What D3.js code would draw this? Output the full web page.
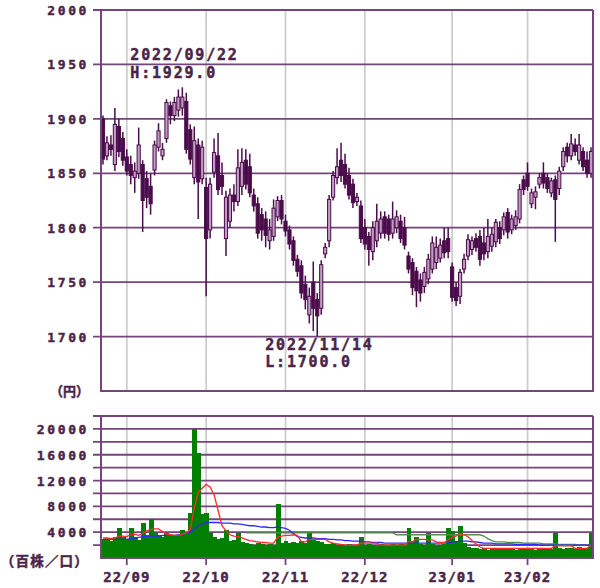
<!DOCTYPE html>
<meta charset="utf-8">
<style>
body { margin: 0; background: #fff; }
svg { display: block; }
.lbl { font-family: "DejaVu Sans Mono", monospace; font-weight: bold; fill: #4a2549; stroke: #4a2549; stroke-width: 0.45px; }
.grid { stroke: #74457a; stroke-width: 1.8; }
.vgrid { stroke: #cdcdcd; stroke-width: 1.8; }
</style>
<svg width="600" height="588"></svg>
<script src="https://cdn.jsdelivr.net/npm/d3@7"></script>
<script>

// trading days shown (yy/mm/dd)
var dates = [
  "22/08/24","22/08/25","22/08/26","22/08/29","22/08/30","22/08/31",
  "22/09/01","22/09/02","22/09/05","22/09/06","22/09/07","22/09/08","22/09/09","22/09/12","22/09/13","22/09/14",
  "22/09/15","22/09/16","22/09/20","22/09/21","22/09/22","22/09/26","22/09/27","22/09/28","22/09/29","22/09/30",
  "22/10/03","22/10/04","22/10/05","22/10/06","22/10/07","22/10/11","22/10/12","22/10/13","22/10/14","22/10/17",
  "22/10/18","22/10/19","22/10/20","22/10/21","22/10/24","22/10/25","22/10/26","22/10/27","22/10/28","22/10/31",
  "22/11/01","22/11/02","22/11/04","22/11/07","22/11/08","22/11/09","22/11/10","22/11/11","22/11/14","22/11/15",
  "22/11/16","22/11/17","22/11/18","22/11/21","22/11/22","22/11/24","22/11/25","22/11/28","22/11/29","22/11/30",
  "22/12/01","22/12/02","22/12/05","22/12/06","22/12/07","22/12/08","22/12/09","22/12/12","22/12/13","22/12/14",
  "22/12/15","22/12/16","22/12/19","22/12/20","22/12/21","22/12/22","22/12/23","22/12/26","22/12/27","22/12/28",
  "22/12/29","22/12/30",
  "23/01/04","23/01/05","23/01/06","23/01/10","23/01/11","23/01/12","23/01/13","23/01/16","23/01/17","23/01/18",
  "23/01/19","23/01/20","23/01/23","23/01/24","23/01/25","23/01/26","23/01/27","23/01/30","23/01/31",
  "23/02/01","23/02/02","23/02/03","23/02/06","23/02/07","23/02/08","23/02/09","23/02/10","23/02/13","23/02/14",
  "23/02/15","23/02/16","23/02/17","23/02/20","23/02/21","23/02/22","23/02/24"
];

var open = [
  1900,1866,1876,1858,1893,1882,1865,1858,1846,1850,1858,1845,1838,1853,1874,1866,1882,1912,1903,1908,
  1910,1916,1890,1846,1876,1845,1837,1798,1851,1866,1848,1790,1806,1830,1824,1838,1862,1856,1830,1822,
  1812,1808,1788,1792,1810,1825,1806,1798,1788,1771,1765,1748,1720,1750,1734,1726,1776,1788,1828,1846,
  1862,1858,1848,1840,1824,1820,1800,1792,1778,1788,1795,1810,1808,1795,1800,1806,1800,1774,1768,1760,
  1752,1746,1753,1762,1768,1772,1788,1790,1764,1745,1737,1762,1774,1780,1790,1792,1786,1778,1783,1787,
  1800,1798,1814,1798,1802,1808,1844,1850,1822,1828,1840,1850,1846,1832,1844,1836,1856,1874,1866,1876,
  1862,1870,1862,1850
];
var high = [
  1903,1884,1885,1910,1900,1888,1872,1866,1860,1892,1862,1852,1850,1880,1896,1878,1918,1916,1920,1927,
  1929,1924,1895,1893,1882,1880,1846,1846,1882,1887,1860,1834,1836,1840,1872,1873,1872,1868,1836,1828,
  1818,1815,1808,1826,1829,1830,1812,1802,1792,1775,1770,1756,1745,1769,1740,1770,1786,1830,1852,1873,
  1878,1868,1855,1845,1832,1825,1808,1796,1806,1822,1815,1815,1812,1824,1816,1812,1810,1778,1772,1764,
  1758,1764,1776,1792,1792,1790,1800,1800,1768,1750,1762,1776,1794,1792,1795,1798,1800,1808,1800,1808,
  1806,1814,1818,1812,1816,1840,1848,1860,1836,1838,1850,1860,1850,1846,1848,1856,1874,1878,1886,1882,
  1886,1874,1870,1874
];
var low = [
  1858,1862,1866,1852,1865,1857,1848,1840,1832,1845,1796,1818,1812,1848,1870,1862,1878,1895,1898,1902,
  1903,1868,1858,1840,1808,1840,1737,1790,1846,1830,1830,1774,1800,1815,1820,1830,1835,1828,1815,1790,
  1788,1782,1780,1788,1806,1803,1792,1780,1765,1755,1735,1725,1712,1705,1700,1720,1772,1782,1825,1840,
  1842,1836,1826,1818,1820,1786,1780,1765,1770,1782,1790,1790,1788,1790,1795,1786,1780,1758,1738,1727,
  1732,1740,1748,1758,1762,1768,1772,1772,1732,1728,1730,1758,1770,1775,1778,1765,1770,1772,1778,1782,
  1785,1793,1790,1794,1798,1804,1830,1834,1818,1817,1836,1836,1832,1828,1787,1830,1852,1860,1862,1866,
  1858,1852,1846,1846
];
var close = [
  1863,1878,1872,1895,1870,1862,1852,1848,1852,1876,1825,1828,1822,1876,1889,1872,1915,1903,1915,1920,
  1920,1872,1863,1880,1842,1874,1790,1840,1869,1835,1838,1828,1830,1824,1855,1860,1840,1832,1820,1795,
  1798,1793,1798,1818,1825,1808,1797,1785,1770,1760,1740,1734,1737,1726,1719,1766,1782,1826,1848,1856,
  1848,1840,1830,1823,1828,1790,1785,1780,1800,1806,1808,1795,1794,1808,1810,1790,1784,1762,1745,1742,
  1740,1759,1771,1786,1782,1784,1777,1778,1736,1733,1759,1771,1789,1788,1782,1771,1776,1792,1794,1805,
  1790,1810,1796,1808,1810,1835,1835,1838,1832,1833,1846,1841,1836,1843,1826,1852,1870,1866,1877,1870,
  1876,1856,1850,1870
];

// volume (hundreds of shares)
var volume = [
  2900,3100,2700,3300,4600,3200,3000,4600,3300,2800,5500,3500,6000,3800,3500,3300,3900,3600,3400,3600,
  4300,3800,7000,20000,16300,6800,7000,3800,3300,3000,3100,4300,2600,2800,3900,2500,2300,2200,2000,2300,
  2100,2000,2200,1900,8300,2400,2600,2300,2500,2400,2600,2300,4100,2900,2600,2500,2200,2100,2300,2000,
  2200,1900,2100,2000,1900,3300,2000,2200,2000,1800,2100,2000,1900,2200,2000,2100,1900,4600,2600,3300,
  2200,2000,3800,2100,1900,2000,2200,4600,4200,2600,4900,2400,1700,1500,1600,1400,1500,1300,1600,1500,
  1400,1600,1500,1400,1300,1500,1600,1400,1500,1300,1400,1500,1600,1400,3800,1500,1400,1600,1500,1400,
  1700,1500,1600,3800
];
var ma5 = [
  3100,3100,3000,3100,3400,3400,3300,3600,3700,3500,3800,4200,4400,4500,4500,4100,3700,3600,3500,3500,
  3700,3900,4400,7700,10200,10800,11400,11000,9800,7400,5000,4200,3600,3400,3300,3100,2900,2700,2600,2500,
  2400,2400,2300,2300,3200,3400,3500,3500,3600,3500,2500,2500,2900,2900,2900,2900,2900,2500,2300,2200,
  2100,2000,2000,2000,2000,2300,2300,2300,2300,2300,2000,2000,2000,2000,2000,2000,2000,2500,2500,2900,
  2900,2900,2800,2800,2500,2400,2400,2800,3200,3400,3800,3600,3300,2700,2200,1700,1500,1500,1500,1500,
  1500,1500,1500,1500,1500,1500,1500,1500,1500,1500,1500,1500,1500,1500,1900,1900,1900,1900,1900,1500,
  1500,1500,1500,2000
];
var ma25 = [
  2900,2900,2900,2900,2900,2900,2900,3000,3100,3200,3300,3300,3400,3400,3400,3500,3500,3500,3500,3600,
  3700,3800,4000,4500,5000,5300,5500,5500,5500,5500,5400,5400,5400,5300,5300,5200,5100,5000,5000,4900,
  4800,4800,4700,4700,4800,4700,4600,4300,3800,3300,3200,3100,3100,3100,3000,3000,3000,2900,2900,2800,
  2800,2700,2700,2600,2600,2600,2500,2500,2400,2400,2400,2300,2300,2300,2300,2300,2300,2300,2300,2300,
  2300,2300,2300,2300,2300,2300,2300,2300,2500,2500,2600,2600,2600,2500,2500,2400,2300,2300,2300,2200,
  2200,2200,2200,2200,2100,2100,2100,2100,2100,2100,2000,2000,2000,2000,2000,2000,2000,2000,2000,2000,
  2000,2000,2000,2000
];
var ma75 = [
  null,null,null,null,null,null,null,null,null,null,null,null,null,null,null,null,null,null,null,null,
  null,null,null,null,null,null,null,null,null,null,null,null,null,null,null,null,3900,3900,3900,3900,
  3900,3900,3900,3900,3900,3900,3900,3900,3900,3900,3900,3900,3900,3900,3900,3900,3900,3900,3900,3900,
  3900,3900,3900,3900,3900,3900,3900,3900,3900,3900,3900,3900,3900,3900,3600,3600,3600,3600,3600,3600,
  3600,3600,3600,3600,3600,3600,3600,3600,3600,3600,3600,3600,3600,3600,3600,3600,3400,3000,2700,2500,
  2500,2500,2400,2400,2400,2400,2300,2300,2300,2300,2300,2200,2200,2200,2200,2100,2100,2100,2100,2100,
  2000,2000,2000,2000
];

var priceTicks = [1700, 1750, 1800, 1850, 1900, 1950, 2000];
var volLabels = [4000, 8000, 12000, 16000, 20000];
var volGrid = [2000, 4000, 6000, 8000, 10000, 12000, 14000, 16000, 18000, 20000, 22000];
var monthDates = ["22/09/01", "22/10/03", "22/11/01", "22/12/01", "23/01/04", "23/02/01"];
var monthLabels = ["22/09", "22/10", "22/11", "22/12", "23/01", "23/02"];
var hiDate = "22/09/22", hiText = ["2022/09/22", "H:1929.0"], hiValue = 1929.0;
var loDate = "22/11/14", loText = ["2022/11/14", "L:1700.0"], loValue = 1700.0;

var svg = d3.select("svg");
var left = 101, right = 593;
var dark = "#4a0c4a", light = "#c29bc2";

var x = d3.scaleBand().domain(dates).range([left, right]);
var bw = x.bandwidth();
var cx = function(d) { return x(d) + bw / 2; };
var y = d3.scaleLinear().domain([1650, 2000]).range([391, 10]);
var yv = d3.scaleLinear().domain([0, 22000]).range([558, 416]);

// ---------- price panel ----------
var price = svg.append("g");
price.selectAll(".vgrid").data(monthDates).enter().append("line")
    .attr("class", "vgrid")
    .attr("x1", cx).attr("x2", cx)
    .attr("y1", y(2000)).attr("y2", y(1650));
price.selectAll(".grid").data(priceTicks).enter().append("line")
    .attr("class", "grid")
    .attr("x1", left - 8).attr("x2", right)
    .attr("y1", function(d) { return y(d); })
    .attr("y2", function(d) { return y(d); });
price.selectAll(".plbl").data(priceTicks).enter().append("text")
    .attr("class", "lbl")
    .attr("x", 89).attr("y", function(d) { return y(d) + 5; })
    .attr("text-anchor", "end")
    .style("font-size", "13px").style("letter-spacing", "2.6px")
    .text(function(d) { return d; });

var candles = dates.map(function(d, i) {
  return { date: d, o: open[i], h: high[i], l: low[i], c: close[i] };
});
var cg = price.append("g");
cg.selectAll("line").data(candles).enter().append("line")
    .attr("x1", function(d) { return cx(d.date); })
    .attr("x2", function(d) { return cx(d.date); })
    .attr("y1", function(d) { return y(d.h); })
    .attr("y2", function(d) { return y(d.l); })
    .attr("stroke", dark).attr("stroke-width", 1.5);
cg.selectAll("rect").data(candles).enter().append("rect")
    .attr("x", function(d) { return x(d.date) + 0.4; })
    .attr("width", bw - 0.8)
    .attr("y", function(d) { return y(Math.max(d.o, d.c)); })
    .attr("height", function(d) { return Math.max(1.5, Math.abs(y(d.o) - y(d.c))); })
    .attr("fill", function(d) { return d.c >= d.o ? light : dark; })
    .attr("stroke", dark).attr("stroke-width", 1);

// borders
price.append("path")
    .attr("d", "M" + left + "," + y(2000) + "V" + y(1650) + "H" + right + "V" + y(2000))
    .attr("fill", "none").attr("stroke", "#74457a").attr("stroke-width", 2);

// high / low notes
price.selectAll(".hi").data(hiText).enter().append("text")
    .attr("class", "lbl")
    .attr("x", x(hiDate) - 50)
    .attr("y", function(d, i) { return y(hiValue) - 27 + i * 17.5; })
    .style("font-size", "15px").style("letter-spacing", "1.8px")
    .text(function(d) { return d; });
price.selectAll(".lo").data(loText).enter().append("text")
    .attr("class", "lbl")
    .attr("x", x(loDate) - 50)
    .attr("y", function(d, i) { return y(loValue) + 13 + i * 17.5; })
    .style("font-size", "15px").style("letter-spacing", "1.8px")
    .text(function(d) { return d; });

svg.append("text")
    .attr("class", "lbl")
    .attr("x", 89).attr("y", 396)
    .attr("text-anchor", "end")
    .style("font-family", "'Noto Sans CJK JP', sans-serif")
    .style("font-size", "13px").style("letter-spacing", "0px")
    .text("（円）");

// ---------- volume panel ----------
var vol = svg.append("g");
vol.selectAll(".vgrid").data(monthDates).enter().append("line")
    .attr("class", "vgrid")
    .attr("x1", cx).attr("x2", cx)
    .attr("y1", yv(22000)).attr("y2", yv(0));
vol.selectAll(".grid").data(volGrid).enter().append("line")
    .attr("class", "grid")
    .attr("x1", left - 8).attr("x2", right)
    .attr("y1", function(d) { return yv(d); })
    .attr("y2", function(d) { return yv(d); });
vol.selectAll(".vlbl").data(volLabels).enter().append("text")
    .attr("class", "lbl")
    .attr("x", 89).attr("y", function(d) { return yv(d) + 5; })
    .attr("text-anchor", "end")
    .style("font-size", "13px").style("letter-spacing", "2.6px")
    .text(function(d) { return d; });

vol.append("g").attr("shape-rendering", "crispEdges")
  .selectAll("rect").data(dates).enter().append("rect")
    .attr("x", function(d) { return x(d); })
    .attr("width", bw + 1)
    .attr("y", function(d, i) { return yv(volume[i]); })
    .attr("height", function(d, i) { return yv(0) - yv(volume[i]); })
    .attr("fill", "#007f00");

function maLine(vals, color, w) {
  var line = d3.line()
      .defined(function(d, i) { return vals[i] != null; })
      .x(function(d) { return cx(d); })
      .y(function(d, i) { return yv(vals[i]); });
  vol.append("path").datum(dates)
      .attr("d", line)
      .attr("fill", "none").attr("stroke", color).attr("stroke-width", w);
}
maLine(ma75, "#4f8f4f", 1.3);
maLine(ma25, "#2a2aff", 1.3);
maLine(ma5, "#ff2a2a", 1.3);

vol.append("path")
    .attr("d", "M" + left + "," + yv(22000) + "V" + yv(0) + "H" + right + "V" + yv(22000))
    .attr("fill", "none").attr("stroke", "#74457a").attr("stroke-width", 2);

vol.selectAll(".tick").data(monthDates).enter().append("line")
    .attr("x1", cx).attr("x2", cx)
    .attr("y1", yv(0)).attr("y2", yv(0) + 7)
    .attr("stroke", "#74457a").attr("stroke-width", 1.8);
vol.selectAll(".mlbl").data(monthDates).enter().append("text")
    .attr("class", "lbl")
    .attr("x", cx).attr("y", 582)
    .attr("text-anchor", "middle")
    .style("font-size", "14px").style("letter-spacing", "1px")
    .text(function(d, i) { return monthLabels[i]; });

svg.append("text")
    .attr("class", "lbl")
    .attr("x", 89).attr("y", 566)
    .attr("text-anchor", "end")
    .style("font-family", "'Noto Sans CJK JP', sans-serif")
    .style("font-size", "13.5px").style("letter-spacing", "1.2px")
    .text("（百株／口）");
</script>
